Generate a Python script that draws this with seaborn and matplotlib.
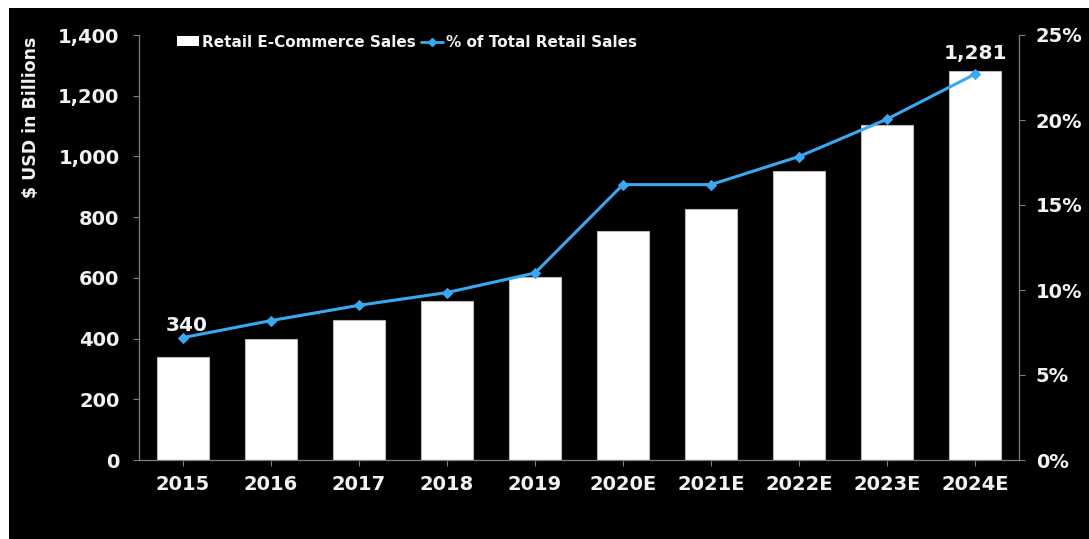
import numpy as np
import pandas as pd
import matplotlib
matplotlib.use("Agg")
import matplotlib.pyplot as plt
from matplotlib.patches import Rectangle, Patch
from matplotlib.lines import Line2D
import matplotlib.ticker as mticker
import seaborn as sns

years = ["2015", "2016", "2017", "2018", "2019", "2020E", "2021E", "2022E", "2023E", "2024E"]
ecommerce_sales = [340, 398, 461, 524, 602, 753, 826, 952, 1102, 1281]
pct_of_retail = [7.2, 8.2, 9.1, 9.85, 11.0, 16.2, 16.2, 17.85, 20.05, 22.7]
# value labels shown above selected bars, with their (x, y) offset in points
labelled_years = {"2015": (3, 16), "2024E": (0, 6)}

sns.set_theme(style="dark")
plt.rcParams["font.family"] = ["DejaVu Sans"]
plt.rcParams["font.weight"] = "bold"

BG = "black"
FG = "#f2f2f2"
GRID = "#7f7f7f"
BLUE = "#3aa8f0"

fig = plt.figure(figsize=(10.89, 5.39), dpi=100, facecolor="white")
fig.patches.append(Rectangle((9 / 1089, 0), 1, 1 - 8 / 539, transform=fig.transFigure,
                             facecolor=BG, edgecolor="none", zorder=-10))

ax = fig.add_axes([139 / 1089, 1 - 460 / 539, (1019 - 139) / 1089, (460 - 35) / 539])
ax.set_facecolor(BG)

df = pd.DataFrame({"year": years, "sales": ecommerce_sales, "pct": pct_of_retail})

sns.barplot(data=df, x="year", y="sales", color="white", saturation=1, width=0.59,
            edgecolor="#b8b8b8", linewidth=0.8, ax=ax)

ax.set_ylim(0, 1400)
ax.set_xlim(-0.5, len(years) - 0.5)
ax.yaxis.set_major_locator(mticker.MultipleLocator(200))
ax.yaxis.set_major_formatter(mticker.FuncFormatter(lambda v, p: f"{int(v):,}"))
ax.set_xlabel("")
ax.set_ylabel("$ USD in Billions", color=FG, fontsize=12.5, fontweight="bold", loc="top")
ax.yaxis.set_label_coords(-0.113, 0.995)

for i, (yr, v) in enumerate(zip(years, ecommerce_sales)):
    if yr in labelled_years:
        ax.annotate(f"{v:,}", (i, v), xytext=labelled_years[yr], textcoords="offset points",
                    ha="center", va="bottom", color=FG, fontsize=14.5, fontweight="bold")

ax2 = ax.twinx()
sns.lineplot(x=np.arange(len(years)), y=pct_of_retail, color=BLUE, linewidth=2.2,
             marker="D", markersize=5, markeredgecolor=BLUE, ax=ax2)
ax2.set_ylim(0, 25)
ax2.yaxis.set_major_locator(mticker.MultipleLocator(5))
ax2.yaxis.set_major_formatter(mticker.FuncFormatter(lambda v, p: f"{int(v)}%"))

for a in (ax, ax2):
    a.grid(False)
    for s in a.spines.values():
        s.set_visible(False)
    a.tick_params(colors=GRID, labelcolor=FG, labelsize=14, length=4, width=0.8, direction="out")

ax.spines["left"].set_visible(True)
ax.spines["bottom"].set_visible(True)
ax2.spines["right"].set_visible(True)
for s in (ax.spines["left"], ax.spines["bottom"], ax2.spines["right"]):
    s.set_color(GRID)
    s.set_linewidth(0.9)

ax.tick_params(axis="x", bottom=True, pad=7)
ax.tick_params(axis="y", left=True, pad=10)
ax2.tick_params(axis="y", right=True, pad=8)
for lbl in ax.get_xticklabels() + ax.get_yticklabels() + ax2.get_yticklabels():
    lbl.set_fontweight("bold")

handles = [Patch(facecolor="white", edgecolor="none"),
           Line2D([], [], color=BLUE, linewidth=2, marker="D", markersize=4)]
leg = ax2.legend(handles, ["Retail E-Commerce Sales", "% of Total Retail Sales"],
                 loc="upper left", bbox_to_anchor=(0.027, 1.033), ncol=2, frameon=False,
                 handlelength=1.45, handleheight=0.6, handletextpad=0.2, columnspacing=0.35,
                 prop={"size": 11, "weight": "bold"})
for t in leg.get_texts():
    t.set_color(FG)

fig.savefig("out.png", dpi=100, facecolor=fig.get_facecolor())
